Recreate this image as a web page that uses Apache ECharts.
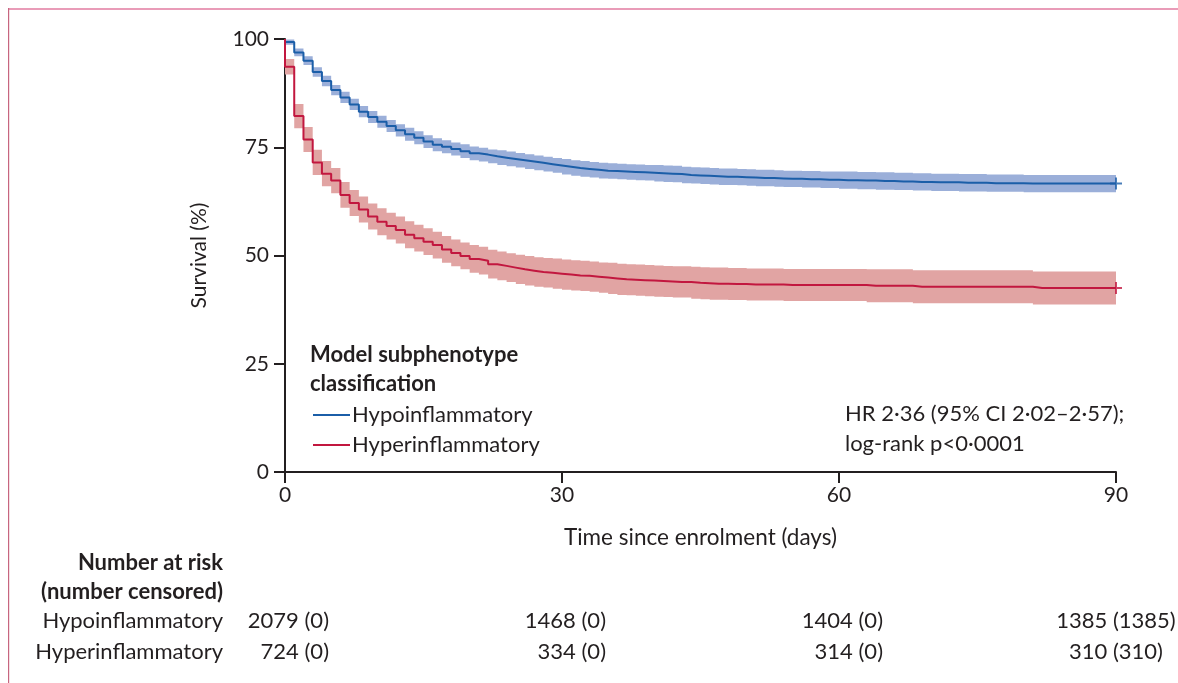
<!DOCTYPE html>
<html><head><meta charset="utf-8">
<script src="https://cdn.jsdelivr.net/npm/echarts@6/dist/echarts.min.js"></script>
<style>html,body{margin:0;padding:0;background:#fff}#main{width:1178px;height:683px}</style>
</head><body><div id="main"></div>
<script>
// ---- Data ----
const startSurvival = 100;
const xTicks = [0, 30, 60, 90];
const yTicks = [0, 25, 50, 75, 100];

// Daily Kaplan-Meier estimates (%) for day 0..90
const blueSurvival = [99.3,96.9,95.0,92.4,90.3,88.2,86.5,84.9,83.2,82.0,
80.9,79.9,78.9,78.0,77.2,76.3,75.6,75.1,74.6,74.1,
73.6,73.3,72.9,72.6,72.3,72.0,71.7,71.4,71.1,70.8,
70.5,70.2,70.0,69.8,69.6,69.5,69.4,69.3,69.2,69.1,
69.0,68.9,68.8,68.6,68.5,68.4,68.3,68.2,68.2,68.1,
68.0,67.9,67.9,67.8,67.7,67.7,67.6,67.6,67.5,67.5,
67.4,67.4,67.3,67.3,67.2,67.2,67.1,67.1,67.0,67.0,
66.9,66.9,66.9,66.8,66.8,66.8,66.7,66.7,66.7,66.7,
66.6,66.6,66.6,66.6,66.6,66.6,66.6,66.6,66.6,66.6,66.6];
const blueLower = [98.7,96.0,94.0,91.3,89.1,87.0,85.2,83.6,81.9,80.6,
79.5,78.5,77.5,76.5,75.7,74.8,74.1,73.6,73.1,72.5,
72.0,71.7,71.3,70.9,70.6,70.3,70.0,69.7,69.4,69.1,
68.7,68.4,68.2,68.0,67.8,67.7,67.6,67.5,67.4,67.3,
67.1,67.0,66.9,66.7,66.6,66.5,66.4,66.3,66.3,66.2,
66.1,66.0,66.0,65.9,65.8,65.8,65.7,65.7,65.6,65.6,
65.4,65.4,65.3,65.3,65.2,65.2,65.1,65.1,65.0,65.0,
64.9,64.9,64.9,64.8,64.8,64.8,64.7,64.7,64.7,64.7,
64.6,64.6,64.6,64.6,64.6,64.6,64.6,64.6,64.6,64.6,64.6];
const blueUpper = [99.9,97.8,96.0,93.5,91.5,89.4,87.8,86.2,84.5,83.4,
82.3,81.3,80.3,79.5,78.7,77.8,77.1,76.6,76.1,75.7,
75.2,74.9,74.5,74.3,74.0,73.7,73.4,73.1,72.8,72.5,
72.3,72.0,71.8,71.6,71.4,71.3,71.2,71.1,71.0,70.9,
70.9,70.8,70.7,70.5,70.4,70.3,70.2,70.1,70.1,70.0,
69.9,69.8,69.8,69.7,69.6,69.6,69.5,69.5,69.4,69.4,
69.4,69.4,69.3,69.3,69.2,69.2,69.1,69.1,69.0,69.0,
68.9,68.9,68.9,68.8,68.8,68.8,68.7,68.7,68.7,68.7,
68.6,68.6,68.6,68.6,68.6,68.6,68.6,68.6,68.6,68.6,68.6];

const redSurvival = [93.6,82.2,76.8,71.5,68.9,67.3,64.0,62.1,60.6,59.0,
57.8,56.8,55.9,54.8,54.0,53.2,52.4,51.4,50.6,49.9,
49.2,48.8,48.0,47.6,47.2,46.8,46.5,46.2,46.0,45.8,
45.6,45.4,45.3,45.1,44.9,44.7,44.5,44.4,44.3,44.2,
44.1,44.0,43.9,43.9,43.7,43.6,43.5,43.5,43.4,43.4,
43.3,43.3,43.3,43.3,43.2,43.2,43.2,43.2,43.2,43.2,
43.2,43.2,43.2,43.0,43.0,43.0,43.0,43.0,42.8,42.8,
42.8,42.8,42.8,42.8,42.8,42.8,42.8,42.8,42.8,42.8,
42.8,42.5,42.5,42.5,42.5,42.5,42.5,42.5,42.5,42.5,42.5];
const redLower = [91.8,79.4,73.9,68.6,66.0,64.4,61.0,59.1,57.6,56.0,
54.7,53.7,52.8,51.7,50.9,50.1,49.3,48.3,47.5,46.8,
46.0,45.6,44.7,44.3,43.9,43.4,43.1,42.8,42.6,42.3,
42.1,41.9,41.8,41.6,41.4,41.1,40.9,40.8,40.7,40.6,
40.5,40.4,40.3,40.3,40.0,39.9,39.8,39.8,39.7,39.7,
39.6,39.6,39.6,39.6,39.5,39.5,39.5,39.5,39.5,39.5,
39.5,39.5,39.5,39.2,39.2,39.2,39.2,39.2,39.0,39.0,
39.0,39.0,39.0,39.0,39.0,39.0,39.0,39.0,39.0,39.0,
39.0,38.7,38.7,38.7,38.7,38.7,38.7,38.7,38.7,38.7,38.7];
const redUpper = [95.4,85.0,79.7,74.4,71.8,70.2,67.0,65.1,63.6,62.0,
60.9,59.9,59.0,57.9,57.1,56.3,55.5,54.5,53.7,53.0,
52.4,52.0,51.3,50.9,50.5,50.2,49.9,49.6,49.4,49.3,
49.1,48.9,48.8,48.6,48.4,48.3,48.1,48.0,47.9,47.8,
47.7,47.6,47.5,47.5,47.4,47.3,47.2,47.2,47.1,47.1,
47.0,47.0,47.0,47.0,46.9,46.9,46.9,46.9,46.9,46.9,
46.9,46.9,46.9,46.8,46.8,46.8,46.8,46.8,46.6,46.6,
46.6,46.6,46.6,46.6,46.6,46.6,46.6,46.6,46.6,46.6,
46.6,46.3,46.3,46.3,46.3,46.3,46.3,46.3,46.3,46.3,46.3];

const groupNames = ['Hypoinflammatory', 'Hyperinflammatory'];
const riskDays = [0, 30, 60, 90];
const riskHypo = ['2079 (0)', '1468 (0)', '1404 (0)', '1385 (1385)'];
const riskHyper = ['724 (0)', '334 (0)', '314 (0)', '310 (310)'];
const statsText = ['HR 2·36 (95% CI 2·02–2·57);', 'log-rank p<0·0001'];
const legendTitle = ['Model subphenotype', 'classification'];
const riskHeader = ['Number at risk', '(number censored)'];

// ---- Styling ----
const FONT = 'Lato';
const TXT = '#231f20';
const BLUE = '#1b5ea8', BLUE_BAND = '#9bafd9';
const RED = '#c2173f', RED_BAND = '#e1a4a3';
const LAST_DAY = 90;

function curve(vals) {
  return [[0, startSurvival]].concat(vals.map((v, i) => [i, v]));
}

const chart = echarts.init(document.getElementById('main'), null, {renderer: 'canvas'});

// Step-shaped confidence band drawn as one polygon through the axis scales
function bandSeries(name, lo, hi, color) {
  return {
    name: name, type: 'custom', data: [0], silent: true, z: 1,
    renderItem: function (params, api) {
      const points = [];
      for (let i = 0; i < hi.length; i++) {
        const x1 = Math.min(i + 1, LAST_DAY);
        points.push(api.coord([i, hi[i]]), api.coord([x1, hi[i]]));
      }
      for (let i = lo.length - 1; i >= 0; i--) {
        const x1 = Math.min(i + 1, LAST_DAY);
        points.push(api.coord([x1, lo[i]]), api.coord([i, lo[i]]));
      }
      return {type: 'polygon', shape: {points: points}, style: {fill: color}};
    }
  };
}

const option = {
  animation: false,
  textStyle: {fontFamily: FONT, color: TXT},
  grid: {left: 285, right: 62, top: 39, bottom: 211},
  xAxis: {
    type: 'value', min: 0, max: 90, interval: 30,
    axisLine: {lineStyle: {color: TXT, width: 2}},
    axisTick: {length: 11, lineStyle: {color: TXT, width: 2}},
    axisLabel: {fontSize: 21, color: TXT, margin: 13, fontFamily: FONT},
    splitLine: {show: false},
    name: 'Time since enrolment (days)', nameLocation: 'middle', nameGap: 54,
    nameTextStyle: {fontSize: 22.5, color: TXT, fontFamily: FONT}
  },
  yAxis: {
    type: 'value', min: 0, max: 100, interval: 25,
    axisLine: {show: true, lineStyle: {color: TXT, width: 2}},
    axisTick: {show: true, length: 11, lineStyle: {color: TXT, width: 2}},
    axisLabel: {fontSize: 21, color: TXT, margin: 16, fontFamily: FONT},
    splitLine: {show: false},
    name: 'Survival (%)', nameLocation: 'middle', nameGap: 75,
    nameTextStyle: {fontSize: 21, color: TXT, fontFamily: FONT}
  },
  legend: {
    data: groupNames, left: 308, top: 399, orient: 'vertical',
    icon: 'rect', itemWidth: 37, itemHeight: 2, itemGap: 8, selectedMode: false,
    textStyle: {fontSize: 22, color: TXT, fontFamily: FONT, lineHeight: 22, padding: [0, 0, 0, -3]}
  },
  series: [
    bandSeries('Hypo CI', blueLower, blueUpper, BLUE_BAND),
    bandSeries('Hyper CI', redLower, redUpper, RED_BAND),
    {name: groupNames[0], type: 'line', step: 'end', data: curve(blueSurvival), color: BLUE,
     symbol: 'none', lineStyle: {width: 2, color: BLUE}, z: 3, silent: true},
    {name: groupNames[1], type: 'line', step: 'end', data: curve(redSurvival), color: RED,
     symbol: 'none', lineStyle: {width: 2, color: RED}, z: 3, silent: true},
    {name: 'censor hypo', type: 'scatter', data: [[90, blueSurvival[90]]], z: 4, silent: true,
     symbol: 'path://M5,0 L5,10 M0,5 L10,5', symbolSize: 12,
     itemStyle: {color: 'transparent', borderColor: BLUE, borderWidth: 2}},
    {name: 'censor hyper', type: 'scatter', data: [[90, redSurvival[90]]], z: 4, silent: true,
     symbol: 'path://M5,0 L5,10 M0,5 L10,5', symbolSize: 12,
     itemStyle: {color: 'transparent', borderColor: RED, borderWidth: 2}}
  ]
};
chart.setOption(option);

// ---- Annotations and risk table (positions from the x scale) ----
const colX = riskDays.map(d => chart.convertToPixel({xAxisIndex: 0}, d));
const g = [
  {type: 'rect', shape: {x: 8, y: 8, width: 1170, height: 2}, style: {fill: '#e99cb8'}, silent: true},
  {type: 'rect', shape: {x: 8, y: 8, width: 1.2, height: 675}, style: {fill: '#c7657f'}, silent: true},
  {type: 'text', left: 310, top: 340, style: {text: legendTitle.join('\n'), font: 'bold 22px ' + FONT, fill: TXT, lineHeight: 29}},
  {type: 'text', left: 845, top: 399, style: {text: statsText.join('\n'), font: '22px ' + FONT, fill: TXT, lineHeight: 30}},
  {type: 'text', x: 223, y: 548, style: {text: riskHeader.join('\n'), font: 'bold 22px ' + FONT, fill: TXT, lineHeight: 29, align: 'right', verticalAlign: 'top'}},
  {type: 'text', x: 223, y: 621, style: {text: groupNames[0], font: '22px ' + FONT, fill: TXT, align: 'right', verticalAlign: 'middle'}},
  {type: 'text', x: 223, y: 652, style: {text: groupNames[1], font: '22px ' + FONT, fill: TXT, align: 'right', verticalAlign: 'middle'}}
];
riskDays.forEach((d, i) => {
  const last = i === riskDays.length - 1;
  const x = last ? colX[i] : colX[i] + 44;
  const align = last ? 'center' : 'right';
  g.push({type: 'text', x: x, y: 621, style: {text: riskHypo[i], font: '22px ' + FONT, fill: TXT, align: align, verticalAlign: 'middle'}});
  g.push({type: 'text', x: x, y: 652, style: {text: riskHyper[i], font: '22px ' + FONT, fill: TXT, align: align, verticalAlign: 'middle'}});
});
chart.setOption({graphic: g});
</script></body></html>
